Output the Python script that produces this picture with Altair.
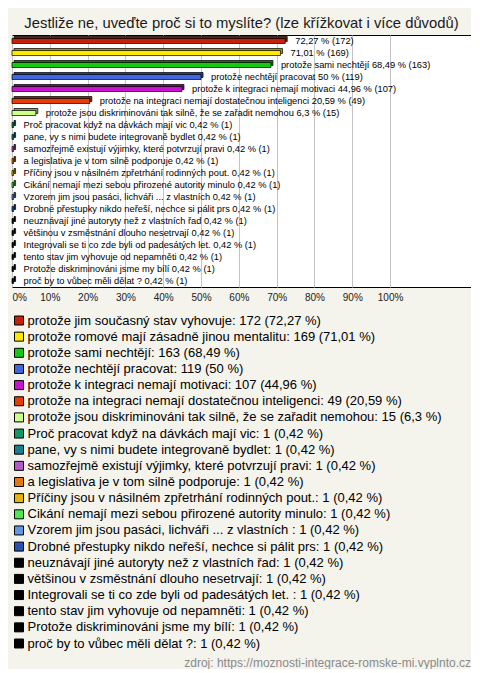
import altair as alt
import pandas as pd

title_text = "Jestliže ne, uveďte proč si to myslíte? (lze křížkovat i více důvodů)"
footer_text = "zdroj: https://moznosti-integrace-romske-mi.vyplnto.cz"

names = [
    "protože jim současný stav vyhovuje",
    "protože romové mají zásadně jinou mentalitu",
    "protože sami nechtějí",
    "protože nechtějí pracovat",
    "protože k integraci nemají motivaci",
    "protože na integraci nemají dostatečnou inteligenci",
    "protože jsou diskriminováni tak silně, že se zařadit nemohou",
    "Proč pracovat když na dávkách mají vic",
    "pane, vy s nimi budete integrovaně bydlet",
    "samozřejmě existují výjimky, které potvrzují pravi",
    "a legislativa je v tom silně podporuje",
    "Příčiny jsou v násilném zpřetrhání rodinných pout.",
    "Cikání nemají mezi sebou přirozené autority minulo",
    "Vzorem jim jsou  pasáci, lichváři ... z vlastních ",
    "Drobné přestupky nikdo neřeší, nechce si pálit prs",
    "neuznávají jiné autoryty než  z vlastních řad",
    "většinou v zsměstnání dlouho nesetrvají",
    "Integrovali se ti co zde byli od padesátých let.  ",
    "tento stav jim vyhovuje od nepamněti",
    "Protože diskriminováni jsme my bílí",
    "proč by to vůbec měli dělat ?",
]
counts = [172, 169, 163, 119, 107, 49, 15, 1, 1, 1, 1, 1, 1, 1, 1, 1, 1, 1, 1, 1, 1]
pcts = [72.27, 71.01, 68.49, 50, 44.96, 20.59, 6.3, 0.42, 0.42, 0.42, 0.42, 0.42,
        0.42, 0.42, 0.42, 0.42, 0.42, 0.42, 0.42, 0.42, 0.42]
colors = ["#c4200c", "#ffe800", "#14c814", "#4066e0", "#c814d0", "#e63c0a", "#ccff8c",
          "#149664", "#1e7d8c", "#b45ac8", "#e67814", "#e6b40a", "#50e650", "#6496e6",
          "#2850b4", "#000000", "#000000", "#000000", "#000000", "#000000", "#000000"]
shades = ["#7a1408", "#a89600", "#0a780a", "#243c8c", "#780a7c", "#902408", "#80a050",
          "#0a5a3c", "#104c56", "#6e3478", "#8c480a", "#8c6c06", "#2c8c2c", "#3c5a8c",
          "#18306c", "#000000", "#000000", "#000000", "#000000", "#000000", "#000000"]
x_ticks = [0, 10, 20, 30, 40, 50, 60, 70, 80, 90, 100]


def fmt(v):
    return str(v).replace(".", ",")


legend_labels = [f"{n}: {c} ({fmt(p)} %)" for n, c, p in zip(names, counts, pcts)]
bar_labels = [
    (f"{fmt(p)} % ({c})" if i < 2 else f"{n} {fmt(p)} % ({c})")
    for i, (n, c, p) in enumerate(zip(names, counts, pcts))
]

df = pd.DataFrame({
    "name": names,
    "legend": legend_labels,
    "label": bar_labels,
    "pct": pcts,
    "shade": shades,
})

FONT = "Liberation Sans"

x_enc = alt.X(
    "pct:Q",
    scale=alt.Scale(domain=[0, 121.4], nice=False, zero=True),
    axis=alt.Axis(
        values=x_ticks, labelExpr="datum.value + '%'", grid=True,
        gridColor="#c4c4c4", gridWidth=1, ticks=False, domain=False, title=None,
        labelFontSize=10, labelFont=FONT, labelColor="#222222", labelPadding=5,
    ),
)
y_enc = alt.Y("name:N", sort=names, axis=None)

base = alt.Chart(df)

shadow = base.mark_bar(size=5, xOffset=2, yOffset=-2, stroke="black", strokeWidth=0.7).encode(
    x=x_enc, y=y_enc, fill=alt.Fill("shade:N", scale=None)
)

front = base.mark_bar(size=5, stroke="black", strokeWidth=0.7, opacity=1).encode(
    x=x_enc,
    y=y_enc,
    color=alt.Color(
        "legend:N",
        sort=legend_labels,
        scale=alt.Scale(domain=legend_labels, range=colors),
        legend=alt.Legend(
            orient="none", legendX=0.5, legendY=279, title=None,
            symbolType="square", symbolSize=81, symbolStrokeColor="black",
            symbolStrokeWidth=1, symbolOpacity=1,
            labelFontSize=13, labelFont=FONT, labelColor="black",
            labelLimit=480, labelOffset=2, rowPadding=2.15, direction="vertical",
            padding=0,
        ),
    ),
)

labels = base.mark_text(align="left", baseline="middle", dx=10, fontSize=9.3,
                        font=FONT, color="black").encode(
    x=x_enc, y=y_enc, text="label:N"
)

footer = alt.Chart(pd.DataFrame({"t": [footer_text]})).mark_text(
    align="right", baseline="middle", fontSize=12, font=FONT, color="#8a8a8a"
).encode(x=alt.value(459), y=alt.value(628), text="t:N")

chart = alt.layer(shadow, front, labels, footer).properties(
    width=459,
    height=252,
    title=alt.Title(title_text, fontSize=14.8, font=FONT, fontWeight="normal",
                    color="#1a1a1a", anchor="middle", offset=4),
    padding={"left": 3, "top": 8, "right": 0, "bottom": 0},
).configure(background="#f4f3ec").configure_view(
    stroke="black", strokeWidth=1, fill="white"
)

chart.save("out.html", embed_options={"renderer": "svg", "actions": False})
